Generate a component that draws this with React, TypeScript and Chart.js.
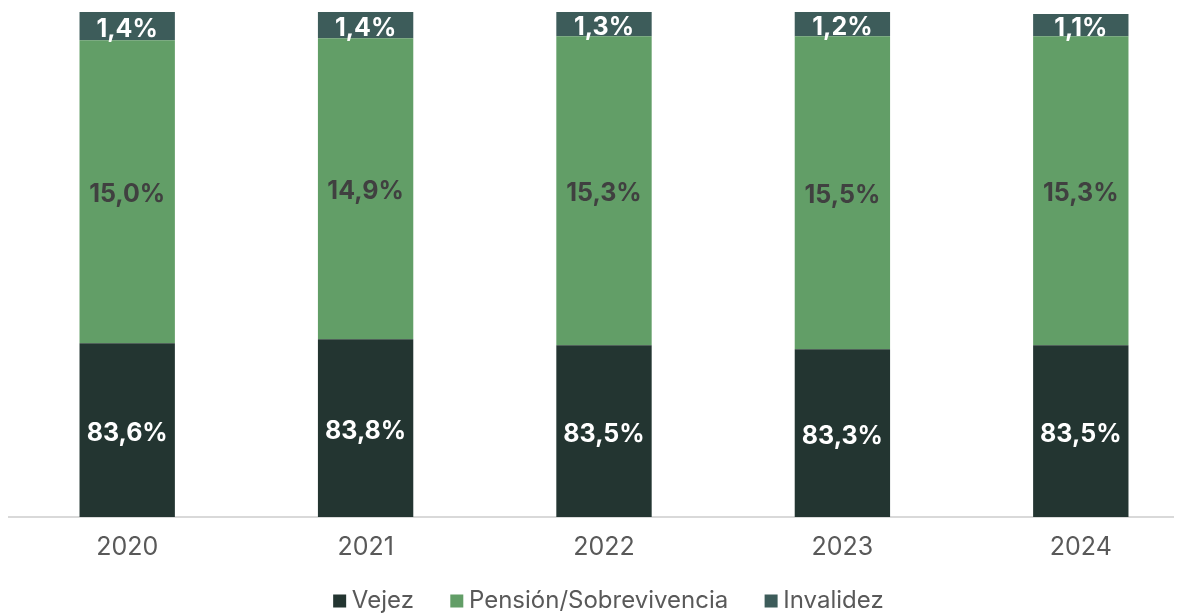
import React, { useEffect, useRef } from "react";
import { Chart, registerables } from "chart.js";

Chart.register(...registerables);

const years = ["2020", "2021", "2022", "2023", "2024"];
const vejez = [83.6, 83.8, 83.5, 83.3, 83.5];
const pension = [15.0, 14.9, 15.3, 15.5, 15.3];
const invalidez = [1.4, 1.4, 1.3, 1.2, 1.1];
const seriesNames = ["Vejez", "Pensión/Sobrevivencia", "Invalidez"];
const seriesColors = ["#233531", "#629e67", "#3d5c5a"];
const labelColors = ["#ffffff", "#404040", "#ffffff"];
const yMin = 75;
const yMax = 100;

const fmt = (v: number) => v.toFixed(1).replace(".", ",") + "%";

const labelPlugin = {
  id: "segLabels",
  afterDatasetsDraw(chart: any) {
    const { ctx, chartArea } = chart;
    ctx.save();
    ctx.font = "bold 25px Inter";
    ctx.textAlign = "center";
    ctx.textBaseline = "middle";
    chart.data.datasets.forEach((ds: any, di: number) => {
      const meta = chart.getDatasetMeta(di);
      meta.data.forEach((el: any, i: number) => {
        const p = el.getProps(["x", "y", "base"], true);
        const top = Math.max(Math.min(p.y, p.base), chartArea.top);
        const bottom = Math.min(Math.max(p.y, p.base), chartArea.bottom);
        ctx.fillStyle = labelColors[di];
        ctx.fillText(fmt(ds.data[i]), p.x, (top + bottom) / 2 + 3);
      });
    });
    ctx.restore();
  },
};

const legendPlugin = {
  id: "customLegend",
  afterDraw(chart: any) {
    const { ctx } = chart;
    const box = 13;
    const gapBoxText = 5.7;
    const gapItems = 36.4;
    ctx.save();
    ctx.font = "24px Inter";
    ctx.textBaseline = "middle";
    ctx.textAlign = "left";
    const items = chart.data.datasets.map((ds: any) => ({
      text: ds.label,
      color: ds.backgroundColor,
      w: ctx.measureText(ds.label).width,
    }));
    const total =
      items.reduce((s: number, it: any) => s + box + gapBoxText + it.w, 0) +
      gapItems * (items.length - 1);
    let x = chart.width / 2 + 4.4 - total / 2;
    const yc = chart.height - 13;
    items.forEach((it: any) => {
      ctx.fillStyle = it.color;
      ctx.fillRect(x, yc - box / 2, box, box);
      x += box + gapBoxText;
      ctx.fillStyle = "#595959";
      ctx.fillText(it.text, x, yc);
      x += it.w + gapItems;
    });
    ctx.restore();
  },
};

export default function App() {
  const ref = useRef<HTMLCanvasElement | null>(null);

  useEffect(() => {
    document.documentElement.style.overflow = "hidden";
    document.body.style.overflow = "hidden";
    const canvas = ref.current;
    if (!canvas) return;
    const allData = [vejez, pension, invalidez];
    const chart = new Chart(canvas, {
      type: "bar",
      data: {
        labels: years,
        datasets: allData.map((d, i) => ({
          label: seriesNames[i],
          data: d,
          backgroundColor: seriesColors[i],
          borderWidth: 0,
          categoryPercentage: 0.4,
          barPercentage: 1,
        })),
      },
      options: {
        animation: false,
        responsive: true,
        maintainAspectRatio: false,
        layout: { padding: { top: 4, left: 0, right: 0, bottom: 37 } },
        scales: {
          x: {
            stacked: true,
            grid: { display: false, drawTicks: false },
            border: { display: true, color: "#d9d9d9", width: 2 },
            ticks: {
              color: "#595959",
              font: { family: "Inter", size: 25 },
              padding: 15,
            },
            afterFit: (s: any) => {
              s.height = 60;
            },
          },
          y: {
            stacked: true,
            display: false,
            min: yMin,
            max: yMax,
          },
        },
        plugins: {
          legend: { display: false },
          tooltip: { enabled: false },
        },
      },
      plugins: [labelPlugin, legendPlugin],
    });
    return () => chart.destroy();
  }, []);

  return (
    <div style={{ width: 1192, height: 606, position: "relative" }}>
      <canvas ref={ref} />
    </div>
  );
}
